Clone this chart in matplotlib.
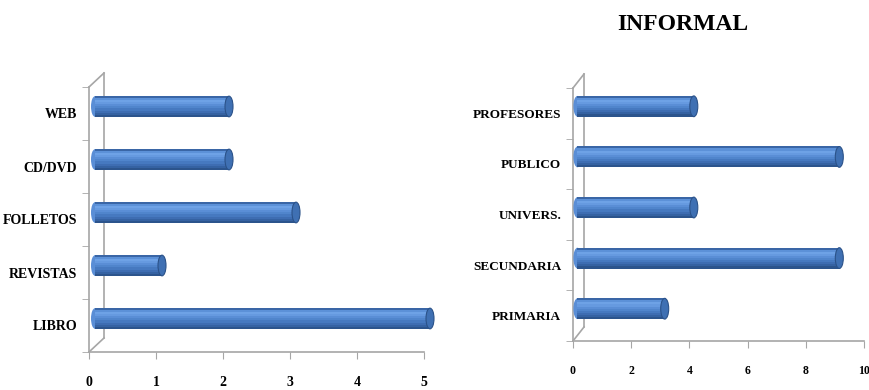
import numpy as np
import matplotlib
matplotlib.use("Agg")
import matplotlib.pyplot as plt
from matplotlib.patches import Ellipse
from matplotlib.transforms import offset_copy

# ---------- Daten ----------
medios = ["LIBRO", "REVISTAS", "FOLLETOS", "CD/DVD", "WEB"]
medios_val = [5, 1, 3, 2, 2]

publico = ["PRIMARIA", "SECUNDARIA", "UNIVERS.", "PUBLICO", "PROFESORES"]
publico_val = [3, 9, 4, 9, 4]

titulo = "INFORMAL"

W, H = 869, 390
plt.rcParams["font.family"] = ["Liberation Serif", "DejaVu Serif"]
plt.rcParams["font.weight"] = "bold"

fig = plt.figure(figsize=(W / 100, H / 100), dpi=100)
fig.patch.set_facecolor("white")

FRAME = "#a6a6a6"

# Zylinder-Farbverlauf von oben nach unten
profile = ["#3a66a6", "#5c91d8", "#6ea2e6", "#669ae0", "#5a8ed6",
           "#5085cc", "#4679c0", "#3e6db2", "#3562a2", "#2c548c"]


def px_axes(x0, y0, x1, y1):
    # Achsen in Pixelkoordinaten (oben links = 0,0)
    return fig.add_axes([x0 / W, 1 - y1 / H, (x1 - x0) / W, (y1 - y0) / H])


def chart(ax, cats, vals, xmax, xstep, depth, bar_h, lab_fs, tick_fs):
    n = len(cats)
    ax.set_xlim(0, xmax)
    ax.set_ylim(-0.5, n - 0.5)
    for s in ["top", "right"]:
        ax.spines[s].set_visible(False)
    for s in ["left", "bottom"]:
        ax.spines[s].set_color(FRAME)
        ax.spines[s].set_linewidth(1.2)

    # Rückwand (Pseudo-3D)
    bb = ax.get_position()
    aw, ah = bb.width * W, bb.height * H
    dx, dy = depth[0] / aw, depth[1] / ah
    kw = dict(transform=ax.transAxes, color=FRAME, lw=1.2, clip_on=False)
    ax.plot([dx, dx], [dy, 1 + dy], **kw)
    ax.plot([0, dx], [1, 1 + dy], **kw)
    ax.plot([0, dx], [0, dy], **kw)

    # Balken als Zylinder
    tr = offset_copy(ax.transData, fig=fig, x=depth[0] * 0.4, y=depth[1] * 0.5, units="dots")
    px_per_unit = aw / xmax
    cap_w = 8 / px_per_unit
    m = len(profile)
    for i, v in enumerate(vals):
        for k, c in enumerate(profile):
            y_top = i + bar_h / 2 - k * bar_h / m
            ax.barh(y_top - bar_h / m / 2, v, height=bar_h / m * 1.1, left=0,
                    color=c, lw=0, antialiased=False, transform=tr,
                    zorder=3, clip_on=False)
        ax.add_patch(Ellipse((0, i), cap_w, bar_h, color=profile[4], lw=0,
                             transform=tr, zorder=2.9, clip_on=False))
        ax.add_patch(Ellipse((v, i), cap_w, bar_h, facecolor="#3f70b3",
                             edgecolor="#2b5289", lw=0.8, transform=tr,
                             zorder=4, clip_on=False))

    ax.set_yticks(range(n))
    ax.set_yticklabels(cats)
    ax.set_yticks(np.arange(-0.5, n, 1), minor=True)
    ax.tick_params(axis="y", which="major", length=0, pad=8.5, labelsize=lab_fs)
    ax.tick_params(axis="y", which="minor", length=5, color=FRAME, direction="out")

    ticks = np.arange(0, xmax + 0.01, xstep)
    ax.set_xticks(ticks)
    ax.set_xticklabels([str(int(t)) for t in ticks])
    ax.tick_params(axis="x", length=5, color=FRAME, pad=12, labelsize=tick_fs)
    for lab in ax.get_xticklabels() + ax.get_yticklabels():
        lab.set_fontweight("bold")


ax1 = px_axes(89, 87, 424, 352)
chart(ax1, medios, medios_val, 5, 1, (15, 14), 0.39, 10, 10)

ax2 = px_axes(573, 88, 864, 341)
chart(ax2, publico, publico_val, 10, 2, (11, 14), 0.41, 9.5, 8.5)

fig.text(683 / W, 1 - 25 / H, titulo, ha="center", va="center",
         fontsize=17, fontweight="bold")

fig.savefig("out.png", dpi=100, facecolor="white")
